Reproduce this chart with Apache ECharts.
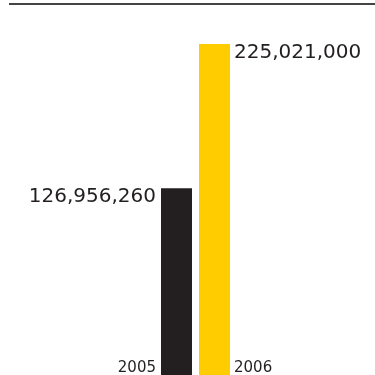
<!DOCTYPE html>
<html>
<head>
<meta charset="utf-8">
<script src="https://cdn.jsdelivr.net/npm/echarts@6/dist/echarts.min.js"></script>
<style>html,body{margin:0;padding:0;background:#fff;}#c{width:375px;height:375px;}</style>
</head>
<body>
<div id="c"></div>
<script>
var years = ['2005', '2006'];
var values = [126956260, 225021000];
var barColors = ['#231f20', '#ffcc00'];

var chart = echarts.init(document.getElementById('c'));
var fmt = function (v) { return v.toLocaleString('en-US'); };
var mainData = values.map(function (v, i) {
  return {
    value: v,
    itemStyle: { color: barColors[i] },
    label: i === 0
      ? { position: [-5, 9], align: 'right', verticalAlign: 'middle' }
      : { position: [35, 9], align: 'left', verticalAlign: 'middle' }
  };
});
var yearData = years.map(function (y, i) {
  return {
    value: 0,
    label: i === 0
      ? { position: [-5, 1], align: 'right', verticalAlign: 'bottom' }
      : { position: [35, 1], align: 'left', verticalAlign: 'bottom' }
  };
});
chart.setOption({
  animation: false,
  grid: { left: 157.5, width: 76, top: 44, bottom: 0 },
  xAxis: {
    type: 'category', data: years, show: false
  },
  yAxis: {
    type: 'value', min: 0, max: 225021000, show: false
  },
  graphic: [{
    type: 'line',
    shape: { x1: 9, y1: 4, x2: 375, y2: 4 },
    style: { stroke: '#444', lineWidth: 2 }
  }],
  series: [{
    type: 'bar',
    barWidth: 31,
    data: mainData,
    label: {
      show: true,
      formatter: function (p) { return fmt(p.value); },
      fontFamily: 'DejaVu Sans',
      fontSize: 20,
      color: '#231f20'
    }
  }, {
    type: 'bar',
    barWidth: 31,
    barGap: '-100%',
    data: yearData,
    itemStyle: { color: 'transparent' },
    label: {
      show: true,
      formatter: '{b}',
      fontFamily: 'DejaVu Sans',
      fontSize: 15,
      color: '#231f20'
    }
  }]
});
</script>
</body>
</html>
